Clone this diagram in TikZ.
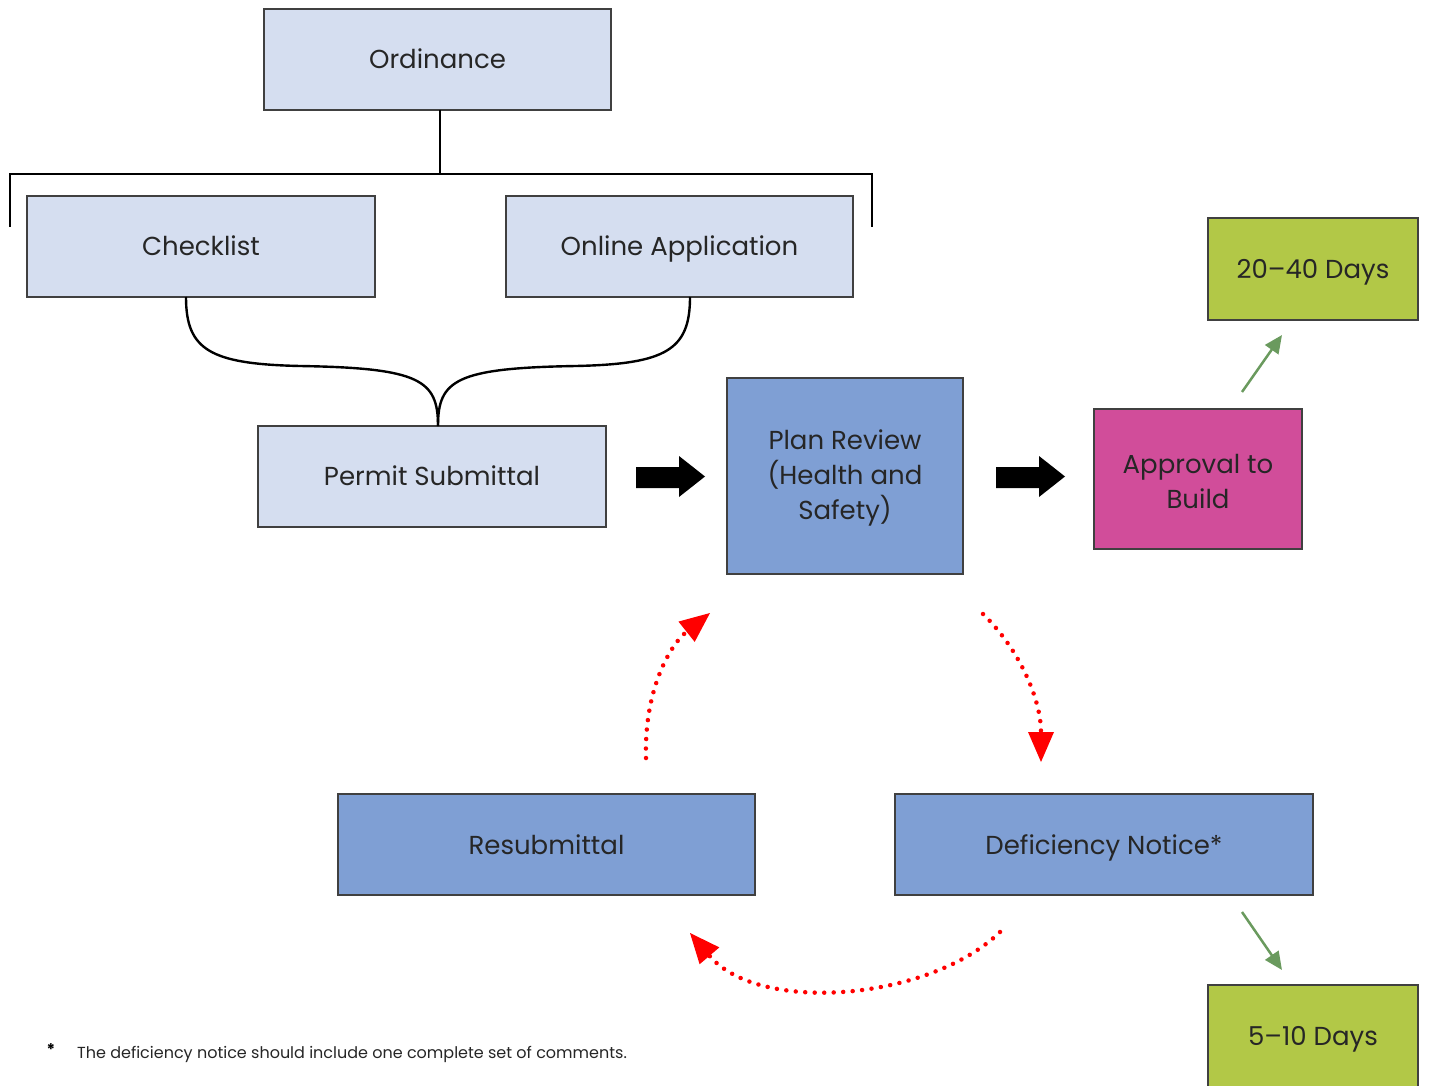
\documentclass[tikz,border=0pt]{standalone}
\usepackage{fontspec}
\setmainfont{Poppins}
\usetikzlibrary{arrows.meta}
\definecolor{lightbox}{HTML}{D5DEF0}
\definecolor{midbox}{HTML}{7F9FD4}
\definecolor{magbox}{HTML}{D14D9A}
\definecolor{greenbox}{HTML}{B2C847}
\definecolor{greenarrow}{HTML}{6A9A5E}
\definecolor{edgegray}{HTML}{404040}
\tikzset{
  x=1pt, y=-1pt,
  lab/.style={font=\fontsize{26}{35}\selectfont, text=black!85, inner sep=0pt, text height=18pt, text depth=0pt},
  mlab/.style={font=\fontsize{26}{35}\selectfont, text=black!85, inner sep=0pt, align=center},
  rect/.style={draw=edgegray, line width=1.2pt},
  redarr/.style={draw=red, line width=4.5pt, dash pattern=on 0pt off 9.5pt, line cap=round, -{Triangle[length=30pt,width=26pt,fill=red,line width=0pt]}},
  grarr/.style={draw=greenarrow, line width=2.5pt, -{Triangle[length=18pt,width=16pt]}},
  conn/.style={line width=2.4pt, black}
}
\begin{document}
\begin{tikzpicture}
\useasboundingbox (0,0) rectangle (1430,1086);
% boxes
\filldraw[rect, fill=lightbox] (264,9) rectangle (611,110);
\node[lab] (ord) at (437.5,59.5) {Ordinance};
\filldraw[rect, fill=lightbox] (27,196) rectangle (375,297);
\node[lab] (chk) at (201,246.5) {Checklist};
\filldraw[rect, fill=lightbox] (506,196) rectangle (853,297);
\node[lab] (onl) at (679.5,246.5) {Online Application};
\filldraw[rect, fill=lightbox] (258,426) rectangle (606,527);
\node[lab] (per) at (432,476.5) {Permit Submittal};
\filldraw[rect, fill=midbox] (727,378) rectangle (963,574);
\node[mlab] (plan) at (845,478) {Plan Review\\(Health and\\Safety)};
\filldraw[rect, fill=magbox] (1094,409) rectangle (1302,549);
\node[mlab] (appr) at (1198,481) {Approval to\\Build};
\filldraw[rect, fill=greenbox] (1208,218) rectangle (1418,320);
\node[lab] (d2040) at (1313,269) {20--40 Days};
\filldraw[rect, fill=midbox] (338,794) rectangle (755,895);
\node[lab] (resub) at (546.5,845) {Resubmittal};
\filldraw[rect, fill=midbox] (895,794) rectangle (1313,895);
\node[lab] (defn) at (1104,845) {Deficiency Notice*};
\filldraw[rect, fill=greenbox] (1208,985) rectangle (1418,1092);
\node[lab] (d510) at (1313,1036) {5--10 Days};
% bracket
\coordinate (ordb) at (440,110);
\draw[conn] (ordb) -- (440,174);
\draw[conn] (10,227) -- (10,174) -- (872,174) -- (872,227);
% braces
\coordinate (chkb) at (186,297);
\coordinate (onlb) at (690,297);
\coordinate (pert) at (438,426);
\draw[conn] (chkb) .. controls (186,350) and (210,364) .. (300,366) .. controls (420,368) and (438,380) .. (pert);
\draw[conn] (onlb) .. controls (690,350) and (666,364) .. (576,366) .. controls (456,368) and (438,380) .. (pert);
% block arrows
\fill[black] (636,467) -- (679,467) -- (679,456) -- (705,476.5) -- (679,497) -- (679,488) -- (636,488) -- cycle;
\fill[black] (996,467) -- (1039,467) -- (1039,456) -- (1065,476.5) -- (1039,497) -- (1039,488) -- (996,488) -- cycle;
% green arrows
\draw[grarr] (1242,392) -- (1282,335);
\draw[grarr] (1242,912) -- (1282,970);
% red dotted arrows
\draw[redarr] (646,758) .. controls (644,690) and (670,645) .. (710,613);
\draw[redarr] (983,614) .. controls (1020,650) and (1041,700) .. (1041,762);
\draw[redarr] (1000,932) .. controls (930,1000) and (760,1015) .. (690,933);
% footnote
\node[anchor=west, font=\fontsize{16}{18}\selectfont\bfseries] (star) at (43,1050) {*};
\node[anchor=base west, font=\fontsize{16}{18}\selectfont, text=black!85, inner sep=0pt] (foot) at (77,1058) {The deficiency notice should include one complete set of comments.};
\end{tikzpicture}
\end{document}
